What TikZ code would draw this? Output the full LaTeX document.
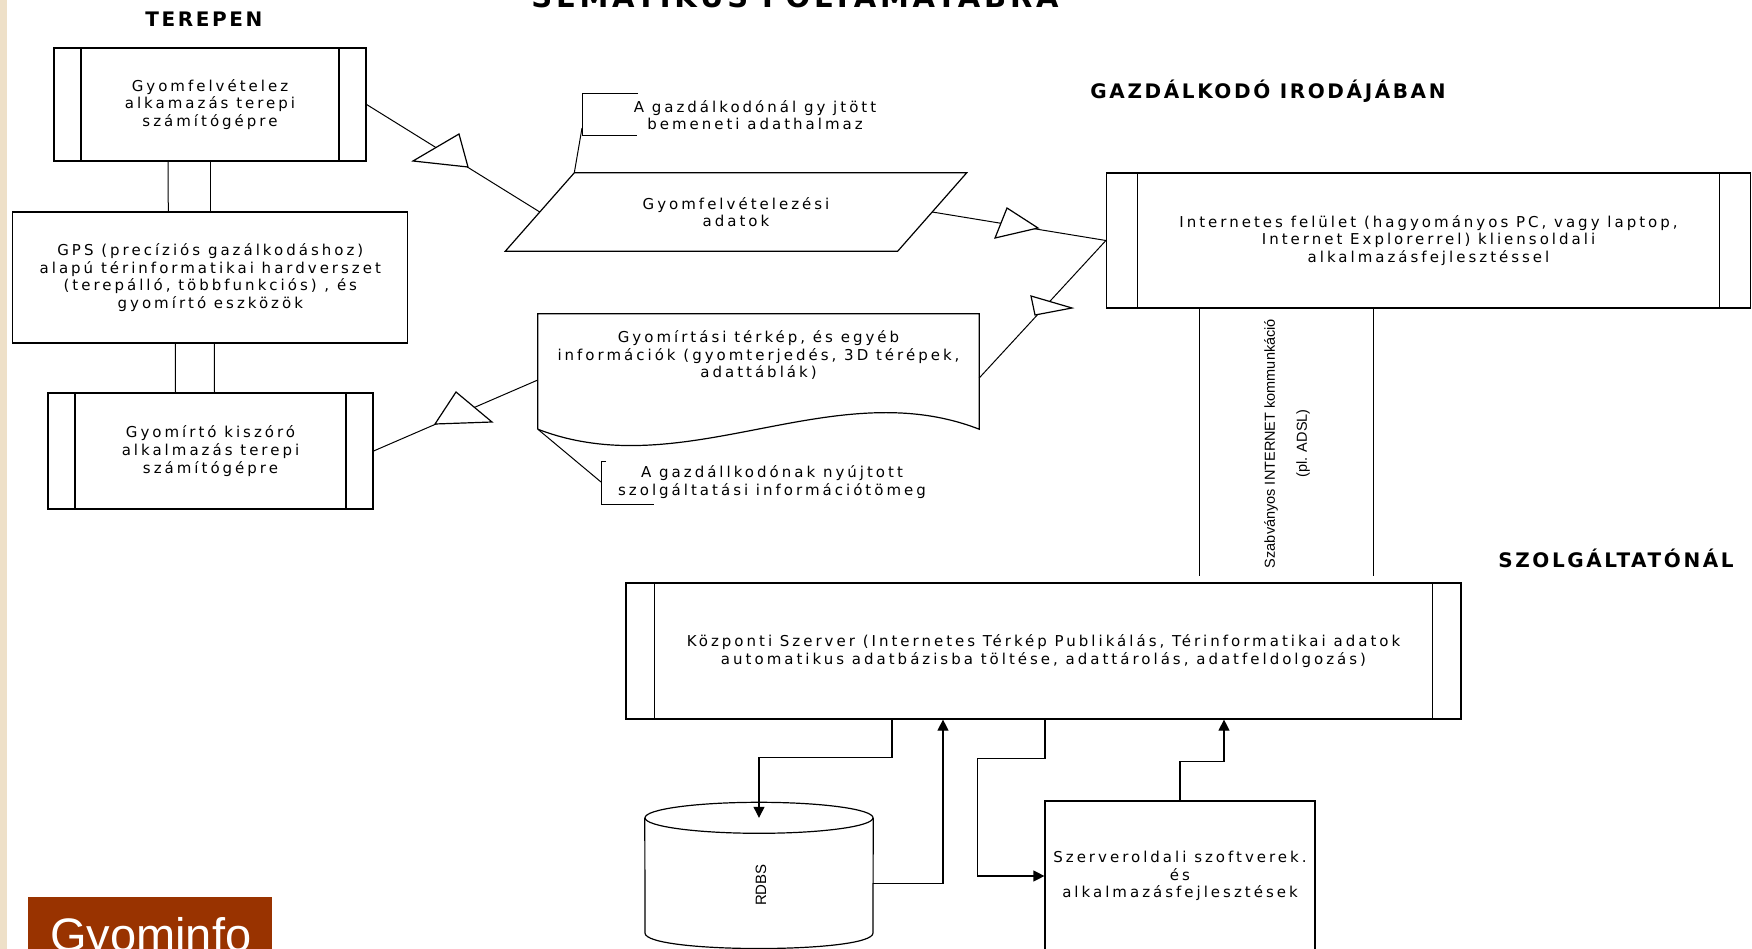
\documentclass[tikz,border=0pt]{standalone}
\usepackage{fontspec}
\setmainfont{Liberation Sans}
\newfontfamily\boxfont[LetterSpace=20]{DejaVu Sans}
\newfontfamily\headfont[LetterSpace=13]{DejaVu Sans}
\usetikzlibrary{shapes.geometric,arrows.meta,calc,positioning}
\definecolor{logobrown}{RGB}{153,51,0}
\definecolor{sidebeige}{RGB}{238,224,200}

\tikzset{
  boxtext/.style={font=\boxfont\fontsize{15}{17.7}\selectfont, align=center},
  headtext/.style={font=\headfont\bfseries\fontsize{20}{22}\selectfont, anchor=base},
  proc/.style={draw, rectangle, boxtext, line width=1.2pt, inner sep=0pt},
  barbox/.style={proc, path picture={
      \draw[line width=1.2pt] ([xshift=#1]path picture bounding box.north west) -- ([xshift=#1]path picture bounding box.south west);
      \draw[line width=1.2pt] ([xshift=-#1]path picture bounding box.north east) -- ([xshift=-#1]path picture bounding box.south east);}},
  barbox/.default=27pt,
  outline/.style={line width=1.2pt},
  flow/.style={line width=1pt},
  tri/.style={draw, fill=white, line width=1.2pt},
  feed/.style={line width=1.2pt, -{Triangle[length=11pt,width=11pt]}},
}

\begin{document}
\begin{tikzpicture}[x=1pt,y=-1pt]
\useasboundingbox (0,0) rectangle (1752,949);
\clip (0,0) rectangle (1752,949);
\fill[white] (0,0) rectangle (1752,949);
\fill[sidebeige] (0,0) rectangle (7,949);

% headings
\node[headtext, font=\headfont\bfseries\fontsize{29}{32}\selectfont] (cim) at (795,8) {SEMATIKUS FOLYAMATÁBRA};
\node[headtext] (terepen) at (204,26.5) {TEREPEN};
\node[headtext] (iroda) at (1268,98.5) {GAZDÁLKODÓ IRODÁJÁBAN};
\node[headtext] (szolg) at (1616,567) {SZOLGÁLTATÓNÁL};

% terepen
\node[barbox, minimum width=312pt, minimum height=113pt] (felvetel) at (210,104.5) {Gyomfelvételez\\alkamazás terepi\\számítógépre};
\node[proc, minimum width=395pt, minimum height=131pt] (gps) at (210.3,277.5) {GPS (precíziós gazálkodáshoz)\\alapú térinformatikai hardverszet\\(terepálló, többfunkciós) , és\\gyomírtó eszközök};
\node[barbox, minimum width=325pt, minimum height=116pt] (irto) at (210.5,451) {Gyomírtó kiszóró\\alkalmazás terepi\\számítógépre};

\draw[flow] ($(felvetel.south)+(-42,0)$) -- ($(gps.north)+(-42,0)$);
\draw[flow] (felvetel.south) -- (felvetel.south |- gps.north);
\draw[flow] ($(gps.south)+(-35,0)$) -- ($(irto.north)+(-35,0)$);
\draw[flow] ($(gps.south)+(4,0)$) -- ($(irto.north)+(4,0)$);

% adatok
\node[boxtext, minimum width=392pt, minimum height=78pt, inner sep=0pt] (adat) at (736,212) {Gyomfelvételezési\\adatok};
\coordinate (adattl) at ($(adat.north west)+(34.5,0)$);
\draw[outline] ($(adat.south west)+(-34.5,0)$) -- (adattl) -- ($(adat.north east)+(34.5,0)$) -- ($(adat.south east)+(-34.5,0)$) -- cycle;
\node[boxtext] (bemenet) at (755,115) {A gazdálkodónál gy jtött\\bemeneti adathalmaz};
\coordinate (bemenetport) at (582,128);
\draw[flow] (638,94) -| (582,136) -- (637,136);
\draw[flow] (adattl) -- (bemenetport);

\node[minimum width=441pt, minimum height=115pt, inner sep=0pt] (terkep) at (758.5,371.5) {};
\draw[outline] (terkep.south west) -- (terkep.north west) -- (terkep.north east) -- (terkep.south east)
  .. controls (832,372) and (685,486) .. (terkep.south west);
\node[boxtext] (terkepszoveg) at (758.5,355) {Gyomírtási térkép, és egyéb\\információk (gyomterjedés, 3D térépek,\\adattáblák)};
\node[boxtext] (szolgaltatas) at (772,482) {A gazdállkodónak nyújtott\\szolgáltatási információtömeg};
\coordinate (szolgport) at (601,482);
\draw[flow] (606,461) -- (601,461) -- (601,504) -- (654,504);
\draw[flow] (terkep.south west) -- (szolgport);

% iroda
\node[barbox=31pt, minimum width=644pt, minimum height=135pt] (internet) at (1428.5,240.5) {Internetes felület (hagyományos PC, vagy laptop,\\Internet Explorerrel) kliensoldali\\alkalmazásfejlesztéssel};

% szolgaltato
\node[barbox=28.5pt, minimum width=835pt, minimum height=136pt] (server) at (1043.5,651) {Központi Szerver (Internetes Térkép Publikálás, Térinformatikai adatok\\automatikus adatbázisba töltése, adattárolás, adatfeldolgozás)};
\node[minimum width=228pt, minimum height=131pt, inner sep=0pt] (rdbs) at (759,883.5) {};
\draw[outline] (rdbs.north) ellipse [x radius=114pt, y radius=15.5pt];
\draw[outline] (rdbs.north west) -- (645,933) .. controls (645,953.7) and (873,953.7) .. (873,933) -- (rdbs.north east);
\node[font=\fontsize{15}{17}\selectfont, rotate=90] (rdbstext) at (761,885) {RDBS};
\node[proc, minimum width=270pt, minimum height=150pt] (szerver) at (1180,876) {Szerveroldali szoftverek.\\és\\alkalmazásfejlesztések};

% kapcsolatok
\draw[flow] (felvetel.east) -- (adat.west);
\draw[flow] (adat.east) -- (internet.west);
\draw[flow] ($(terkep.east)+(0,6.5)$) -- (internet.west);
\draw[flow] ($(terkep.west)+(0,8.5)$) -- (irto.east);
\draw[tri] (413,161) -- (459,134) -- (468,167) -- cycle;
\draw[tri] (1007,208) -- (995,238) -- (1038,228) -- cycle;
\draw[tri] (1031,296) -- (1035,315) -- (1072,308) -- cycle;
\draw[tri] (456,392) -- (435,424) -- (492,422) -- cycle;

\draw[flow] ($(internet.south)+(-229.5,0)$) -- ($(internet.south |- server.north)+(-229.5,-6)$);
\draw[flow] ($(internet.south)+(-55.5,0)$) -- ($(internet.south |- server.north)+(-55.5,-6)$);
\node[font=\fontsize{14.5}{32}\selectfont, rotate=90, align=center] (komm) at (1287,443.5) {Szabványos INTERNET kommunkáció\\(pl. ADSL)};

\draw[feed] ($(server.south)+(-151.5,0)$) |- ($(rdbs.north)+(0,-60)$) -- (rdbs.north);
\draw[feed] (rdbs.east) -| ($(server.south)+(-100.5,0)$);
\draw[feed] ($(server.south)+(1.5,0)$) -- ++(0,39) -| ($(szerver.west)+(-67,0)$) -- (szerver.west);
\draw[feed] (szerver.north) -- ++(0,-39) -| ($(server.south)+(180.5,0)$);

\fill[logobrown] (28,897) rectangle (272,960);
\node[anchor=base west, text=white, font=\fontsize{47}{50}\selectfont, inner sep=0pt] (gyominfo) at (50,951) {Gyominfo};
\end{tikzpicture}
\end{document}
